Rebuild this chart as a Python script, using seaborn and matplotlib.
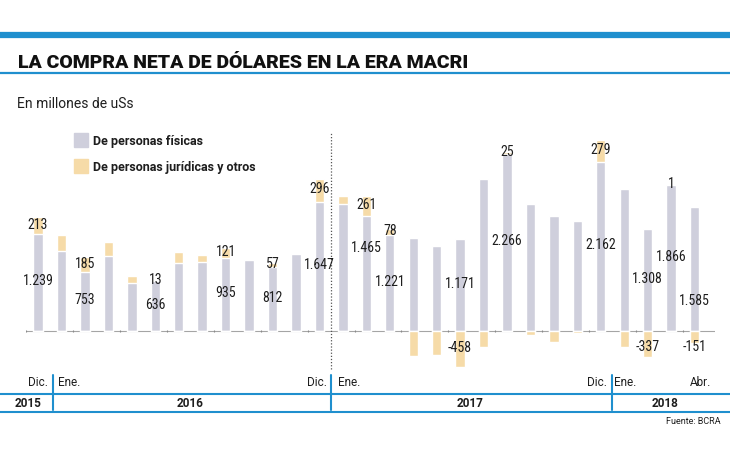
import matplotlib
matplotlib.use("Agg")
import matplotlib.pyplot as plt
from matplotlib import font_manager
from matplotlib.patches import Rectangle
from matplotlib.lines import Line2D
import numpy as np
import pandas as pd
import seaborn as sns

# datos (millones de US$), Dic 2015 - Abr 2018
MESES = ['Ene', 'Feb', 'Mar', 'Abr', 'May', 'Jun', 'Jul', 'Ago', 'Sep', 'Oct', 'Nov', 'Dic']
meses = (['Dic 2015'] + [m + ' 2016' for m in MESES] + [m + ' 2017' for m in MESES]
         + [m + ' 2018' for m in MESES[:4]])

fisicas = [1239, 1026, 753, 953, 611, 636, 871, 884, 935, 906, 812, 983, 1647,
           1620, 1465, 1221, 1184, 1090, 1171, 1945, 2266, 1624, 1466, 1402, 2162,
           1816, 1308, 1866, 1585]
juridicas = [213, 205, 185, 187, 86, 13, 141, 86, 121, -6, 57, -4, 296,
             105, 261, 78, -328, -312, -458, -213, 25, -56, -141, -30, 279,
             -205, -337, 1, -151]

# meses con etiqueta de valor
etiquetados = [0, 2, 5, 8, 10, 12, 14, 15, 18, 20, 24, 26, 27, 28]

corte_meses = ['Dic.', 'Ene.', 'Dic.', 'Ene.', 'Dic.', 'Ene.', 'Abr.']
anios = ['2015', '2016', '2017', '2018']

GRIS = '#cfcfdc'
AMARILLO = '#f6dba8'
AZUL = '#1f8fce'
TXT = '#1e1e1e'

# fuente condensada para los numeros
nombres = {f.name for f in font_manager.fontManager.ttflist}
narrow = next((n for n in ['Roboto Condensed', 'Liberation Sans Narrow',
                           'Open Sans Condensed', 'DejaVu Sans Condensed']
               if n in nombres), None)
if narrow is None:
    num_font = dict(family='DejaVu Sans', stretch='condensed')
else:
    num_font = dict(family=narrow)

sns.set_theme(style='white')
plt.rcParams['font.family'] = ['Roboto', 'DejaVu Sans']

W, H = 730, 460
def fx(x):
    return x / W
def fy(y):
    return 1 - y / H

df = pd.DataFrame({'mes': meses, 'fisicas': fisicas, 'juridicas': juridicas})
df['pos'] = df['fisicas'] + df['juridicas'].clip(lower=0)
df['neg'] = df['juridicas'].clip(upper=0)

fig = plt.figure(figsize=(7.3, 4.6), dpi=100)
fig.patch.set_facecolor('white')
ax = fig.add_axes([fx(26.3), fy(375), fx(715) - fx(26.3), fy(130) - fy(375)])

sns.barplot(data=df, x='mes', y='pos', color=AMARILLO, width=0.4, saturation=1,
            errorbar=None, ax=ax)
sns.barplot(data=df, x='mes', y='fisicas', color=GRIS, width=0.4, saturation=1,
            errorbar=None, ax=ax)
sns.barplot(data=df, x='mes', y='neg', color=AMARILLO, width=0.4, saturation=1,
            errorbar=None, ax=ax)

ax.set_xlim(-0.5, 28.87)
ax.set_ylim(-554, 2582)
ax.axis('off')

# linea base y marcas
ax.axhline(0, color='#a5a5a5', lw=0.8, zorder=0.5)
ax.vlines(np.arange(-0.5, 29, 2), -14, 14, color='#8a8a8a', lw=0.8)
# separador de año
ax.vlines(12.5, -490, 2543, color='#555555', lw=0.9, linestyles=(0, (1, 1.5)),
          clip_on=False)

def fmt(v):
    return f"{v:,}".replace(",", ".")

nudge = {14: -24, 28: 33}
for i in etiquetados:
    f, j = fisicas[i], juridicas[i]
    ax.annotate(fmt(f), (i, f / 2), xytext=(0, 2 - nudge.get(i, 0)),
                textcoords='offset pixels', ha='center', va='center',
                fontsize=10, color=TXT, **num_font)
    if j >= 0:
        yj = f + j / 2
    else:
        yj = min(j / 2, -220)
    ax.annotate(fmt(j), (i, yj), xytext=(0, 2), textcoords='offset pixels',
                ha='center', va='center', fontsize=10, color=TXT, **num_font)

# encabezado
fig.add_artist(Line2D([0, 1], [fy(36), fy(36)], color=AZUL, lw=4.5))
fig.text(fx(18), fy(63), 'LA COMPRA NETA DE DÓLARES EN LA ERA MACRI',
         fontsize=14, fontweight='heavy', color='#111111', va='center')
fig.add_artist(Line2D([0, 1], [fy(73.5), fy(73.5)], color=AZUL, lw=1.6))
fig.text(fx(17), fy(104), 'En millones de uSs', fontsize=10, color=TXT,
         va='center')

# leyenda
for yc, col, lab in [(141, GRIS, 'De personas físicas'),
                     (167, AMARILLO, 'De personas jurídicas y otros')]:
    fig.add_artist(Rectangle((fx(74), fy(yc + 7)), fx(14), fy(yc - 7) - fy(yc + 7),
                             color=col, transform=fig.transFigure))
    fig.text(fx(93), fy(yc), lab, fontsize=9, fontweight='bold', color=TXT,
             va='center')

# eje de tiempo
fig.add_artist(Line2D([0, 1], [fy(395), fy(395)], color=AZUL, lw=1.5))
fig.add_artist(Line2D([0, 1], [fy(413), fy(413)], color=AZUL, lw=1.5))
for xs in [53.3, 331, 611.7]:
    fig.add_artist(Line2D([fx(xs), fx(xs)], [fy(376), fy(411)], color=AZUL, lw=1.5))

pos_meses = [(48, 'right'), (58, 'left'), (327, 'right'), (338, 'left'),
             (607, 'right'), (614, 'left'), (711, 'right')]
for (xp, ha), txt in zip(pos_meses, corte_meses):
    fig.text(fx(xp), fy(383), txt, fontsize=8.5, color=TXT, ha=ha, va='center')

for xp, txt in zip([28, 190, 470, 665], anios):
    fig.text(fx(xp), fy(404), txt, fontsize=8.5, fontweight='bold', color=TXT,
             ha='center', va='center')

fig.text(fx(721), fy(421), 'Fuente: BCRA', fontsize=6.5, color=TXT, ha='right',
         va='center')

fig.savefig('out.png', dpi=100, facecolor='white')
